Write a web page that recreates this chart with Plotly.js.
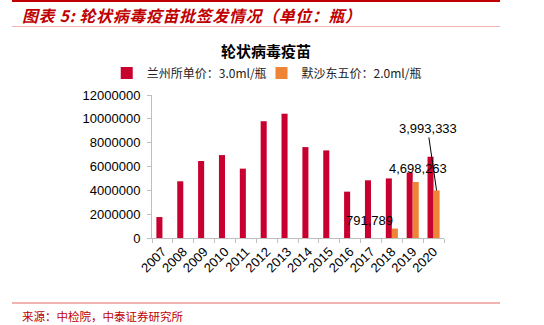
<!DOCTYPE html>
<html><head><meta charset="utf-8">
<script src="https://cdn.plot.ly/plotly-3.0.1.min.js"></script>
<style>
html,body{margin:0;padding:0;background:#fff;}
#wrap{position:relative;width:544px;height:325px;overflow:hidden;}
#chart{position:absolute;left:0;top:0;width:544px;height:325px;}
.hdr{position:absolute;left:22px;top:3px;font-family:"Noto Sans CJK SC";font-weight:bold;font-style:italic;font-size:16px;letter-spacing:0.6px;color:#C00000;white-space:nowrap;}
.src{position:absolute;left:22px;top:308px;font-family:"Noto Sans CJK SC";font-size:11.5px;color:#C00000;white-space:nowrap;}
.l1{position:absolute;left:12px;top:0;width:488px;height:2px;background:#C00000;}
.l2{position:absolute;left:12px;top:26px;width:488px;height:1px;background:#F2B3B3;}
.l3{position:absolute;left:12px;top:302px;width:488px;height:2px;background:#F2B3B3;}
</style></head>
<body><div id="wrap"><div id="chart"></div>
<div class="l1"></div><div class="hdr">图表 5:  轮状病毒疫苗批签发情况（单位：瓶）</div><div class="l2"></div>
<div class="l3"></div><div class="src">来源：中检院，中泰证券研究所</div></div>
<script>
const years = ['2007','2008','2009','2010','2011','2012','2013','2014','2015','2016','2017','2018','2019','2020'];
const lanzhou = [1760000,4760000,6460000,6960000,5820000,9800000,10430000,7630000,7350000,3890000,4840000,5000000,5500000,6820000];
const mosha = [null,null,null,null,null,null,null,null,null,null,null,791789,4698263,3993333];
const nameA = '兰州所单价：3.0ml/瓶';
const nameB = '默沙东五价：2.0ml/瓶';
const yTicks = [0,2000000,4000000,6000000,8000000,10000000,12000000];

function fmt(v){return v.toLocaleString('en-US');}
const numFont = {family:'"Liberation Sans", Arial, sans-serif', size:13, color:'#000'};
const i18 = years.indexOf('2018'), i19 = years.indexOf('2019'), i20 = years.indexOf('2020');
const annotations = [
  {x:i18, y:mosha[i18], text:fmt(mosha[i18]), showarrow:false, xshift:-22, yshift:8, font:numFont},
  {x:i19, y:mosha[i19], text:fmt(mosha[i19]), showarrow:false, xshift:5, yshift:14, font:numFont},
  {x:i20, y:mosha[i20], text:fmt(mosha[i20]), showarrow:true, arrowhead:0, arrowwidth:1, arrowcolor:'#000', xshift:3, ax:-9, ay:-62, font:numFont}
];

const legFont = {family:'"Noto Sans CJK SC", "Liberation Sans"', size:12, color:'#222'};
const data = [
  {type:'bar', name:nameA, x:years, y:lanzhou, marker:{color:'#C8002F'}, legend:'legend'},
  {type:'bar', name:nameB, x:years, y:mosha, marker:{color:'#EE8436'}, legend:'legend2'}
];
const layout = {
  width:544, height:325,
  margin:{l:152, r:100, t:95, b:87},
  paper_bgcolor:'rgba(0,0,0,0)', plot_bgcolor:'rgba(0,0,0,0)',
  barmode:'group', bargap:0.42, bargroupgap:0,
  title:{text:'<b>轮状病毒疫苗</b>', font:{family:'"Noto Sans CJK SC"', size:15, color:'#000'}, x:0.489, xanchor:'center', y:0.84, yanchor:'middle'},
  showlegend:true,
  legend:{orientation:'h', x:-0.155, xanchor:'left', y:1.154, yanchor:'middle', font:legFont, itemwidth:30, bgcolor:'rgba(0,0,0,0)'},
  legend2:{orientation:'h', x:0.375, xanchor:'left', y:1.154, yanchor:'middle', font:legFont, itemwidth:30, bgcolor:'rgba(0,0,0,0)'},
  xaxis:{type:'category', range:[-0.5,13.5], tickson:'boundaries', ticks:'outside', ticklen:4, tickcolor:'#BFBFBF', showline:true, linecolor:'#BFBFBF', linewidth:1, tickangle:-45, tickfont:{family:'"Liberation Sans", Arial', size:13, color:'#000'}, showgrid:false, zeroline:false, fixedrange:true},
  yaxis:{range:[0,12000000], tickvals:yTicks, ticktext:yTicks.map(String), ticks:'outside', ticklen:4, tickcolor:'#BFBFBF', ticklabelstandoff:4, showline:true, linecolor:'#BFBFBF', linewidth:1, tickfont:{family:'"Liberation Sans", Arial', size:13, color:'#000'}, showgrid:false, zeroline:false, fixedrange:true},
  annotations:annotations
};
Plotly.newPlot('chart', data, layout, {staticPlot:true, displayModeBar:false});
</script></body></html>
